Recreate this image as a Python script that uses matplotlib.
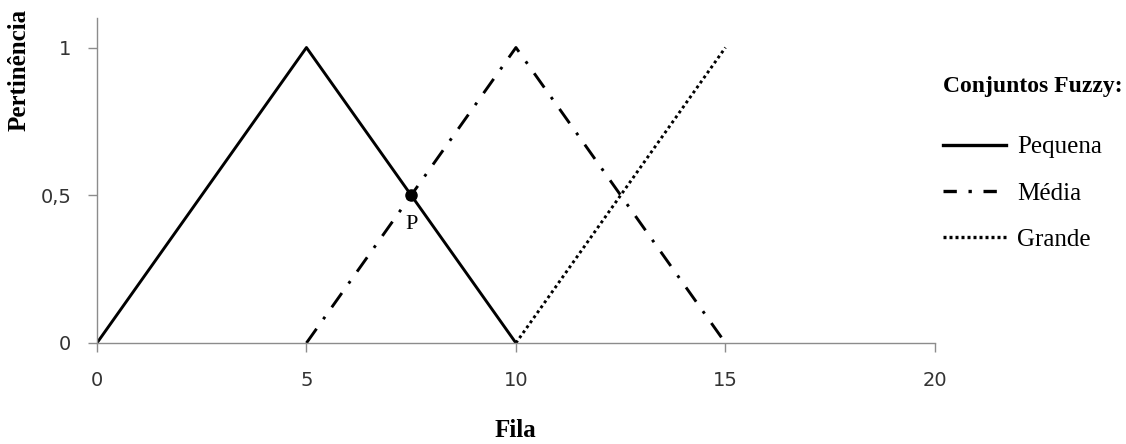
import matplotlib
matplotlib.use("Agg")
import matplotlib.pyplot as plt
from matplotlib.lines import Line2D

# Fuzzy membership functions for the queue length ("Fila")
pequena_x = [0, 5, 10]
pequena_y = [0, 1, 0]
media_x = [5, 10, 15]
media_y = [0, 1, 0]
grande_x = [10, 15]
grande_y = [0, 1]
ponto_x = [7.5]
ponto_y = [0.5]

x_ticks = [0, 5, 10, 15, 20]
y_ticks = [0, 0.5, 1]
y_tick_labels = ["0", "0,5", "1"]
legend_labels = ["Pequena", "Média", "Grande"]

serif = "Liberation Serif"
lw = 2.1
dash_dot = (6, 4, 1, 4)
dotted = (1, 1.1)

fig = plt.figure(figsize=(11.26, 4.44), dpi=100)
ax = fig.add_axes([0.0861, 0.2275, 0.7442, 0.732])

ax.plot(pequena_x, pequena_y, color="black", lw=lw, solid_capstyle="butt")
ax.plot(media_x, media_y, color="black", lw=lw, dashes=dash_dot)
ax.plot(grande_x, grande_y, color="black", lw=lw, dashes=dotted)
ax.plot(ponto_x, ponto_y, "o", color="black", ms=8, zorder=5)
ax.annotate("P", (ponto_x[0], ponto_y[0]), xytext=(0, -14), textcoords="offset points",
            ha="center", va="top", family=serif, fontsize=16)

ax.set_xlim(0, 20)
ax.set_ylim(0, 1.1)
ax.set_xticks(x_ticks)
ax.set_yticks(y_ticks)
ax.set_yticklabels(y_tick_labels)
for s in ["top", "right"]:
    ax.spines[s].set_visible(False)
for s in ["left", "bottom"]:
    ax.spines[s].set_color("#8c8c8c")
    ax.spines[s].set_linewidth(1.0)
ax.tick_params(direction="out", length=6.5, width=1.0, color="#8c8c8c",
               labelsize=14, labelcolor="#333333")
ax.tick_params(axis="y", pad=12)
ax.tick_params(axis="x", pad=14)

fig.text(515 / 1126, 1 - 430 / 444, "Fila", family=serif, fontweight="bold",
         fontsize=18, ha="center", va="center")
fig.text(19 / 1126, 1 - 70 / 444, "Pertinência", family=serif, fontweight="bold",
         fontsize=18, ha="center", va="center", rotation=90)

handles = [
    Line2D([], [], color="black", lw=lw + 0.3),
    Line2D([], [], color="black", lw=lw + 0.3, dashes=(4, 3.5, 1, 3.5)),
    Line2D([], [], color="black", lw=lw + 0.3, dashes=(0.9, 0.9)),
]
leg = fig.legend(handles, legend_labels, loc="upper left",
                 bbox_to_anchor=(943 / 1126, 1 - 76 / 444), frameon=False,
                 borderaxespad=0, borderpad=0,
                 title="Conjuntos Fuzzy:",
                 prop={"family": serif, "size": 18},
                 handlelength=2.5, handletextpad=0.45, labelspacing=0.95)
leg.get_title().set_fontfamily(serif)
leg.get_title().set_fontweight("bold")
leg.get_title().set_fontsize(17)
leg._legend_box.sep = 28
leg._legend_box.align = "left"

fig.savefig("out.png", dpi=100)
